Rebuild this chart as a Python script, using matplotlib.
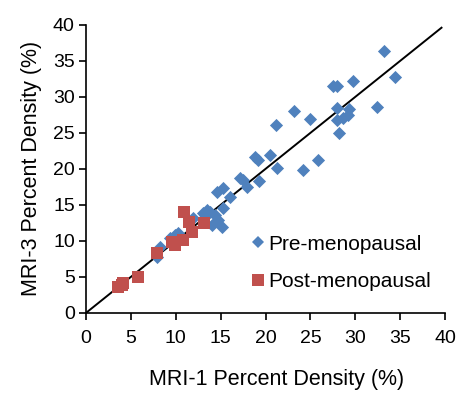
import matplotlib
matplotlib.use("Agg")
import matplotlib.pyplot as plt
from matplotlib.lines import Line2D

plt.rcParams['font.family'] = ['Liberation Sans', 'DejaVu Sans']

pre_x = [33.2, 34.4, 29.7, 27.5, 28.0, 23.2, 25.0, 28.0, 29.3, 32.4, 28.0, 28.6, 29.2, 28.2,
         25.8, 24.2, 21.2, 18.8, 19.2, 20.5, 21.3, 17.2, 17.5, 19.3, 17.9, 14.6, 15.3, 16.0,
         15.3, 13.5, 13.3, 14.4, 14.7, 14.0, 15.2, 11.9, 10.3, 9.9, 9.4, 8.2, 7.9, 13.0, 13.8]
pre_y = [36.4, 32.8, 32.2, 31.5, 31.5, 28.1, 26.9, 28.5, 28.3, 28.6, 26.8, 27.1, 27.5, 25.0,
         21.2, 19.9, 26.1, 21.7, 21.2, 21.9, 20.1, 18.7, 18.5, 18.3, 17.5, 16.8, 17.4, 16.1,
         14.6, 14.3, 13.6, 13.6, 12.9, 12.2, 11.9, 13.2, 11.1, 10.8, 10.4, 9.2, 7.8, 13.9, 14.0]

post_x = [10.9, 11.5, 11.8, 13.1, 10.8, 9.6, 9.9, 7.9, 5.8, 3.6, 4.0, 4.1]
post_y = [14.0, 12.6, 11.3, 12.5, 10.1, 9.9, 9.4, 8.3, 5.0, 3.6, 3.9, 4.2]

ticks = [0, 5, 10, 15, 20, 25, 30, 35, 40]
line_end = 39.6

blue = '#4F81BD'
red = '#C0504D'

fig = plt.figure(figsize=(4.72, 4.07), dpi=100)
ax = fig.add_axes([0.182, 0.231, 0.761, 0.708])

ax.plot([0, line_end], [0, line_end], color='black', lw=1.4, zorder=1)
ax.scatter(pre_x, pre_y, marker='D', s=45, color=blue, linewidths=0, zorder=2)
ax.scatter(post_x, post_y, marker='s', s=85, color=red, linewidths=0, zorder=3)

ax.set_xlim(0, 40)
ax.set_ylim(0, 40)
ax.set_xticks(ticks)
ax.set_yticks(ticks)
ax.tick_params(direction='out', length=5, width=1.2, labelsize=14)
ax.tick_params(axis='x', pad=7)
ax.tick_params(axis='y', pad=3)
for s in ['top', 'right']:
    ax.spines[s].set_visible(False)
for s in ['left', 'bottom']:
    ax.spines[s].set_linewidth(1.2)

ax.set_xlabel('MRI-1 Percent Density (%)', fontsize=15.5)
ax.xaxis.set_label_coords(0.53, -0.195)
ax.set_ylabel('MRI-3 Percent Density (%)', fontsize=15.5, labelpad=8)

handles = [Line2D([], [], marker='D', ls='none', color=blue, markersize=6.5, markeredgewidth=0),
           Line2D([], [], marker='s', ls='none', color=red, markersize=9, markeredgewidth=0)]
ax.legend(handles, ['Pre-menopausal', 'Post-menopausal'], loc='lower right',
          bbox_to_anchor=(1.014, 0.01), frameon=False, fontsize=15, handletextpad=0.1,
          labelspacing=0.9, handlelength=0.8)

fig.savefig('out.png', dpi=100)
